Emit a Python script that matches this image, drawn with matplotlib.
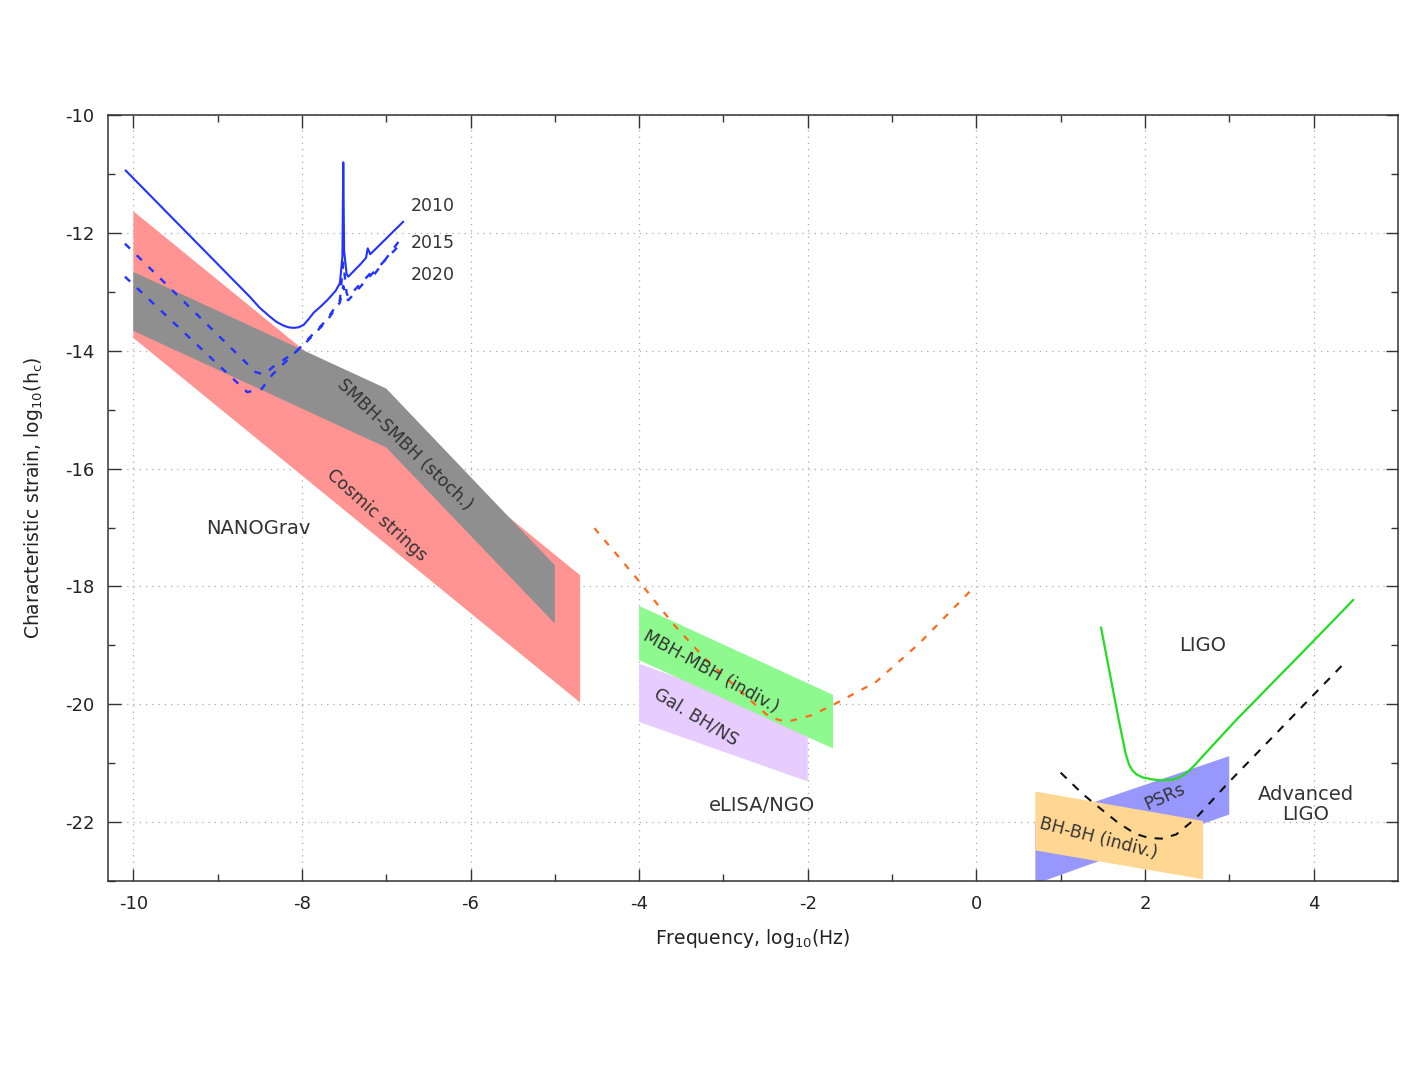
import numpy as np
import matplotlib
matplotlib.use("Agg")
import matplotlib.pyplot as plt
from matplotlib.patches import Polygon

plt.rcParams["axes.unicode_minus"] = False

# ---- data (log10 frequency, log10 strain) ----
cosmic_x = [-10.0, -4.7, -4.7, -10.0]
cosmic_y = [-11.63, -17.81, -19.97, -13.78]

smbh_x = [-10.0, -7.0, -5.0, -5.0, -7.0, -10.0]
smbh_y = [-12.66, -14.64, -17.64, -18.63, -15.64, -13.66]

mbh_x = [-4.0, -1.7, -1.7, -4.0]
mbh_y = [-18.33, -19.84, -20.75, -19.25]

gal_x = [-4.0, -2.0, -2.0, -4.0]
gal_y = [-19.31, -20.35, -21.31, -20.30]

psr_x = [0.7, 3.0, 3.0, 0.7]
psr_y = [-22.0, -20.88, -21.87, -23.05]

bhbh_x = [0.7, 2.69, 2.69, 0.7]
bhbh_y = [-21.48, -21.98, -22.97, -22.48]

pta2010_x = [-10.09, -8.62, -8.50, -8.38, -8.30, -8.22, -8.16, -8.10, -8.04,
             -7.98, -7.92, -7.86, -7.78, -7.70, -7.60, -7.55, -7.52, -7.51,
             -7.50, -7.47, -7.45, -7.30, -7.24, -7.22, -7.19, -6.80]
pta2010_y = [-10.94, -13.08, -13.27, -13.42, -13.51, -13.57, -13.60, -13.61,
             -13.60, -13.56, -13.46, -13.35, -13.25, -13.14, -12.98, -12.85,
             -12.40, -10.80, -12.30, -12.70, -12.74, -12.52, -12.42, -12.26,
             -12.36, -11.81]

pta2015_x = [-10.1, -8.55, -8.45, -8.35, -8.06, -7.94, -7.71, -7.55, -7.51,
             -7.47, -7.45, -7.2, -7.17, -7.14, -6.84]
pta2015_y = [-12.18, -14.36, -14.40, -14.28, -14.00, -13.82, -13.48, -13.14,
             -12.50, -13.02, -13.08, -12.70, -12.62, -12.70, -12.12]

pta2020_x = [-10.1, -8.65, -8.48, -8.35, -8.06, -7.94, -7.71, -7.55, -7.51,
             -7.47, -7.45, -7.2, -6.84]
pta2020_y = [-12.74, -14.70, -14.65, -14.40, -14.00, -13.84, -13.50, -13.18,
             -12.90, -13.12, -13.14, -12.74, -12.20]

elisa_x = [-4.53, -4.03, -3.60, -3.24, -2.73, -2.45, -2.25, -1.94, -1.66,
           -1.19, -0.68, -0.08]
elisa_y = [-17.01, -17.86, -18.63, -19.19, -19.87, -20.22, -20.30, -20.18,
           -19.98, -19.62, -18.97, -18.09]

ligo_x = [1.48, 1.60, 1.69, 1.77, 1.81, 1.85, 1.90, 1.97, 2.07, 2.17, 2.33,
          2.41, 2.48, 2.58, 2.68, 3.08, 3.99, 4.47]
ligo_y = [-18.70, -19.60, -20.27, -20.83, -21.02, -21.12, -21.19, -21.24,
          -21.27, -21.29, -21.28, -21.24, -21.18, -21.05, -20.89, -20.27,
          -18.94, -18.23]

aligo_x = [1.0, 1.26, 1.42, 1.69, 1.89, 2.05, 2.20, 2.37, 2.60, 2.99, 4.40]
aligo_y = [-21.16, -21.52, -21.71, -22.02, -22.20, -22.27, -22.28, -22.21,
           -21.94, -21.33, -19.25]

fig = plt.figure(figsize=(14.22, 10.67), dpi=100)
ax = fig.add_axes([0.076, 0.1743, 0.907, 0.7177])

text_col = "#333333"


def band(xs, ys, color, z):
    ax.add_patch(Polygon(np.column_stack([xs, ys]), closed=True,
                         facecolor=color, edgecolor="none", zorder=z))


band(cosmic_x, cosmic_y, "#ff9492", 2)
band(smbh_x, smbh_y, "#8f8f8f", 3)
band(gal_x, gal_y, "#e6ccff", 2)
band(mbh_x, mbh_y, "#8ef98e", 3)
band(psr_x, psr_y, "#9797fd", 2)
band(bhbh_x, bhbh_y, "#ffd793", 3)

ax.plot(pta2010_x, pta2010_y, color="#2233ff", lw=1.5, zorder=5)
ax.plot(pta2015_x, pta2015_y, color="#2233ff", lw=1.7, ls=(0, (3, 4)), zorder=5)
ax.plot(pta2020_x, pta2020_y, color="#2233ff", lw=1.7, ls=(0, (3, 4)), zorder=5)
ax.plot(elisa_x, elisa_y, color="#ff6a1a", lw=1.6, ls=(0, (3, 4)), zorder=5)
ax.plot(ligo_x, ligo_y, color="#22dd22", lw=1.6, zorder=5)
ax.plot(aligo_x, aligo_y, color="#111111", lw=1.5, ls=(0, (4, 4)), zorder=5)

fs = 14
ax.text(-6.71, -11.54, "2010", fontsize=12.5, color=text_col, va="center")
ax.text(-6.71, -12.17, "2015", fontsize=12.5, color=text_col, va="center")
ax.text(-6.71, -12.72, "2020", fontsize=12.5, color=text_col, va="center")
ax.text(-8.52, -17.01, "NANOGrav", fontsize=fs, color=text_col, ha="center", va="center")
ax.text(-2.54, -21.71, "eLISA/NGO", fontsize=fs, color=text_col, ha="center", va="center")
ax.text(2.69, -19.0, "LIGO", fontsize=fs, color=text_col, ha="center", va="center")
ax.text(3.91, -21.7, "Advanced\nLIGO", fontsize=fs, color=text_col, ha="center",
        va="center", linespacing=1.05)

lab = dict(fontsize=12.5, color=text_col, ha="center", va="center",
           rotation_mode="anchor", zorder=6)
ax.text(-6.78, -15.6, "SMBH-SMBH (stoch.)", rotation=-44, **lab)
ax.text(-7.11, -16.79, "Cosmic strings", rotation=-42, **lab)
ax.text(-3.15, -19.45, "MBH-MBH (indiv.)", rotation=-29, **lab)
ax.text(-3.33, -20.22, "Gal. BH/NS", rotation=-31, **lab)
ax.text(2.24, -21.57, "PSRs", rotation=24, **lab)
ax.text(1.45, -22.27, "BH-BH (indiv.)", rotation=-14.5, **lab)

ax.set_xlim(-10.3, 5.0)
ax.set_ylim(-23.0, -10.0)
ax.set_xticks(np.arange(-10, 5, 2))
ax.set_xticks(np.arange(-10, 5, 1), minor=True)
ax.set_yticks(np.arange(-22, -9, 2))
ax.set_yticks(np.arange(-23, -9, 1), minor=True)
ax.tick_params(which="both", direction="in", top=True, right=True,
               colors="#333333", labelcolor="#222222", labelsize=13)
ax.tick_params(which="major", length=9, width=1, pad=10)
ax.tick_params(which="minor", length=5, width=1)
ax.grid(True, which="major", ls=(0, (1, 4)), color="#aaaaaa", lw=0.9, zorder=0)
ax.set_axisbelow(True)
for s in ax.spines.values():
    s.set_color("#333333")
    s.set_linewidth(1.1)

ax.set_xlabel("Frequency, log$_{10}$(Hz)", fontsize=13.5, color="#222222", labelpad=10)
ax.set_ylabel("Characteristic strain, log$_{10}$(h$_\\mathrm{c}$)", fontsize=13.5,
              color="#222222", labelpad=14)

fig.savefig("out.png", dpi=100)
